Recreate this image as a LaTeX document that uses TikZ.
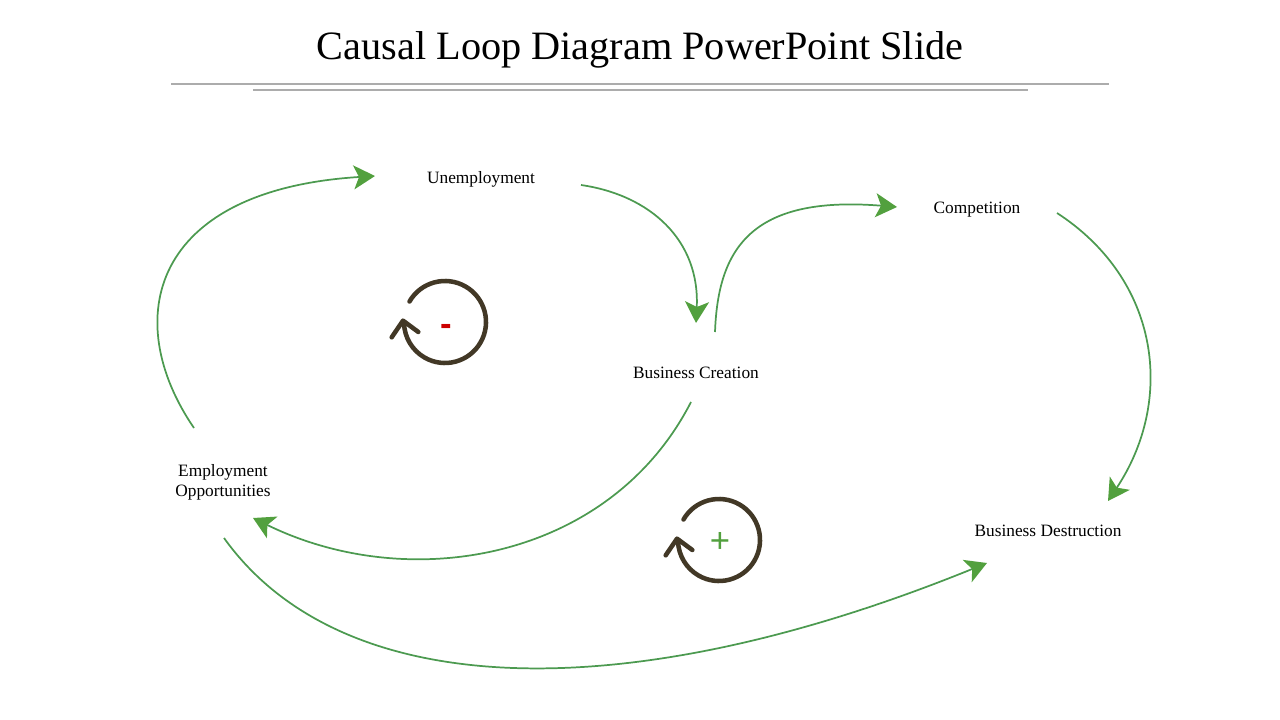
\documentclass[tikz,border=0pt]{standalone}
\usepackage{fontspec}
\setmainfont{Liberation Serif}
\setsansfont{Liberation Sans}
\usetikzlibrary{arrows.meta}
\definecolor{CldGreen}{RGB}{82,160,62}
\definecolor{CldLine}{RGB}{76,154,80}
\definecolor{CldBrown}{RGB}{66,56,38}
\definecolor{CldRule}{RGB}{172,172,172}
\definecolor{CldRed}{RGB}{204,0,0}
\tikzset{
  cld title/.style={font=\fontsize{30.2}{36}\selectfont, text=black, inner sep=0pt},
  cld label/.style={font=\fontsize{13}{15}\selectfont, align=center, inner sep=2pt},
  cld link/.style={draw=CldLine, line width=1.3pt,
    -{Stealth[length=16pt, width=18pt, inset=4pt, color=CldGreen]}},
  cld loop/.style={draw=CldBrown, line width=3.4pt, line cap=round, line join=round},
  cld sign/.style={font=\sffamily\bfseries\fontsize{26}{26}\selectfont, inner sep=0pt}
}

\begin{document}
\begin{tikzpicture}[x=0.75pt, y=-0.75pt]
\useasboundingbox (0,0) rectangle (1280,720);

% heading
\node[cld title] (title) at (640,50) {Causal Loop Diagram PowerPoint Slide};
\draw[CldRule, line width=0.8pt] (171,84) -- (1109,84);
\draw[CldRule, line width=0.8pt] (253,90) -- (1028,90);

% variables
\node[cld label] (unemp) at (481,179) {Unemployment};
\node[cld label] (comp) at (977,210) {Competition};
\node[cld label] (bcreate) at (696,373) {Business Creation};
\node[cld label] (empopp) at (223,482) {Employment\\Opportunities};
\node[cld label] (bdestroy) at (1048,531) {Business Destruction};

% link ends
\coordinate (empopp top) at (194,428);
\coordinate (empopp bot) at (224,538);
\coordinate (unemp in) at (375,176);
\coordinate (unemp out) at (581,185);
\coordinate (bcreate in) at (696,323);
\coordinate (bcreate top) at (715,332);
\coordinate (bcreate bot) at (691,402);
\coordinate (comp in) at (897,207);
\coordinate (comp out) at (1057,213);
\coordinate (bdestroy top) at (1108,501);
\coordinate (bdestroy in) at (987,563);
\coordinate (empopp in) at (253,518);

% links
\draw[cld link] (empopp top) .. controls (120,320) and (150,190) .. (unemp in);
\draw[cld link] (unemp out) .. controls (650,195) and (700,240) .. (bcreate in);
\draw[cld link] (bcreate top) .. controls (718,250) and (750,195) .. (comp in);
\draw[cld link] (comp out) .. controls (1160,280) and (1175,400) .. (bdestroy top);
\draw[cld link] (bcreate bot) .. controls (610,560) and (410,595) .. (empopp in);
\draw[cld link] (empopp bot) .. controls (340,700) and (620,712) .. (bdestroy in);

% loop markers
\coordinate (balance) at (445,322);
\coordinate (reinforce) at (719,540);
\foreach \c in {balance,reinforce}{
  \draw[cld loop] (\c) ++(150:30.75pt) arc[start angle=150, end angle=-178, radius=30.75pt];
  \draw[cld loop] ([shift={(-40pt,-11.5pt)}]\c) -- ([shift={(-31.5pt,1pt)}]\c) -- ([shift={(-20pt,-7.5pt)}]\c);
}
\node[cld sign, text=CldRed] (minus) at (446,330) {-};
\node[cld sign, text=CldGreen, font=\sffamily\fontsize{26}{26}\selectfont] (plus) at (720,542) {+};
\end{tikzpicture}
\end{document}
